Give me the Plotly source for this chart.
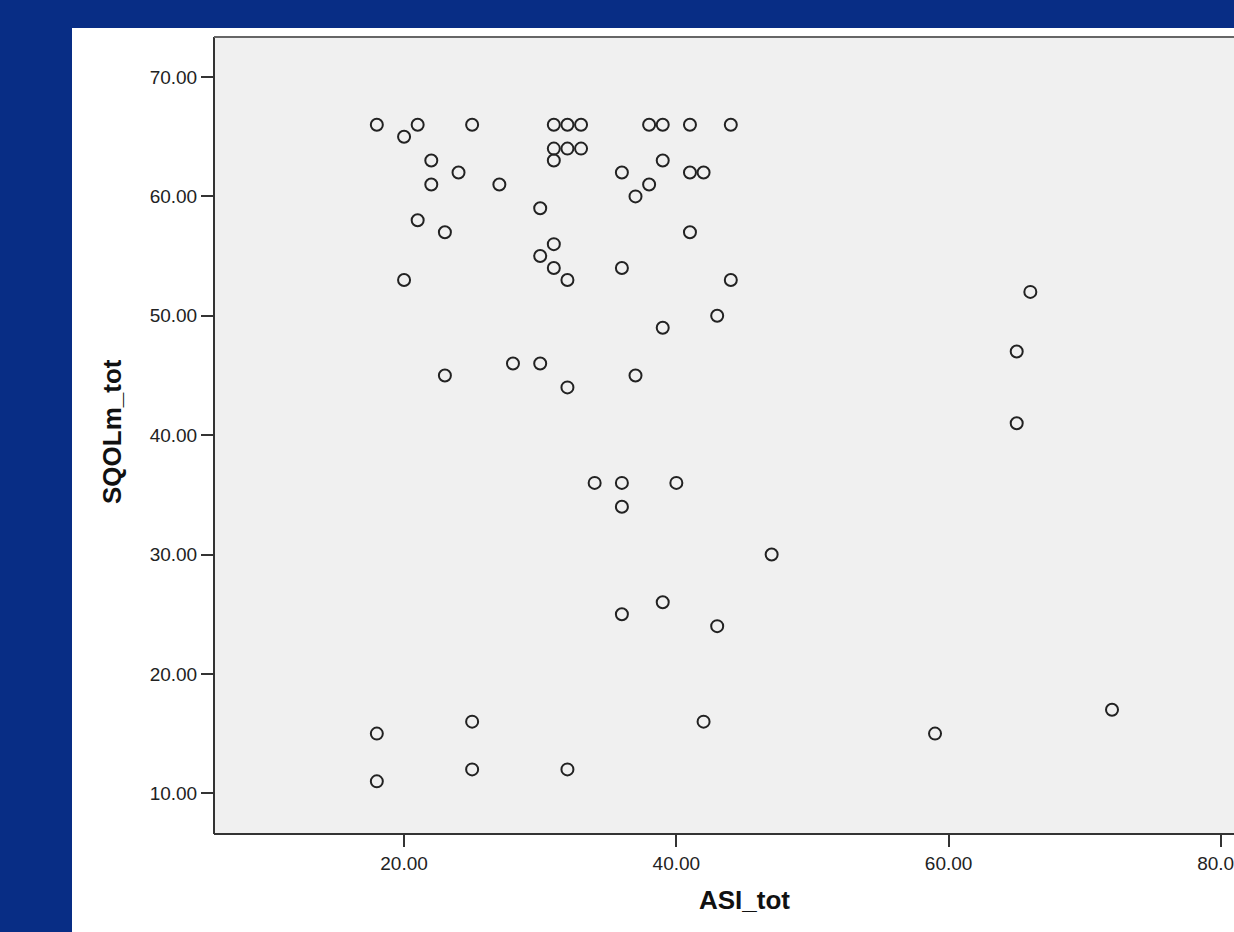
import plotly.graph_objects as go

# Data
asi_tot = [18, 21, 25, 31, 32, 33, 38, 39, 41, 44,
           20,
           31, 32, 33,
           22, 31, 39,
           24, 36, 41, 42,
           22, 27, 38,
           37,
           30,
           21,
           23, 41,
           31,
           30,
           31, 36,
           20, 32, 44,
           66,
           43,
           39,
           65,
           28, 30,
           23, 37,
           32,
           65,
           34, 36, 40,
           36,
           47,
           39,
           36,
           43,
           72,
           25, 42,
           18, 59,
           25, 32,
           18]
sqolm_tot = [66, 66, 66, 66, 66, 66, 66, 66, 66, 66,
             65,
             64, 64, 64,
             63, 63, 63,
             62, 62, 62, 62,
             61, 61, 61,
             60,
             59,
             58,
             57, 57,
             56,
             55,
             54, 54,
             53, 53, 53,
             52,
             50,
             49,
             47,
             46, 46,
             45, 45,
             44,
             41,
             36, 36, 36,
             34,
             30,
             26,
             25,
             24,
             17,
             16, 16,
             15, 15,
             12, 12,
             11]

x_ticks = [20, 40, 60, 80]
x_tick_labels = ["20.00", "40.00", "60.00", "80.00"]
y_ticks = [10, 20, 30, 40, 50, 60, 70]
y_tick_labels = ["10.00", "20.00", "30.00", "40.00", "50.00", "60.00", "70.00"]
x_title = "ASI_tot"
y_title = "SQOLm_tot"

FONT = "Liberation Sans, Arial, sans-serif"
NAVY = "#082d85"
W, H = 1234, 932
ML, MR, MT, MB = 214, 0, 37, 98
pw = W - ML - MR
ph = H - MT - MB

def px_x(p):
    return (p - ML) / pw

def px_y(p):
    return (H - MB - p) / ph

fig = go.Figure()
fig.add_trace(go.Scatter(
    x=asi_tot, y=sqolm_tot, mode="markers",
    marker=dict(symbol="circle-open", size=12, color="#222222",
                line=dict(width=2, color="#222222")),
    showlegend=False, hoverinfo="x+y",
))

frame = dict(color="#333333", width=2)
shapes = [
    # white panel
    dict(type="rect", xref="paper", yref="paper",
         x0=px_x(72), x1=1.05, y0=px_y(H + 20), y1=px_y(28),
         fillcolor="white", line=dict(width=0), layer="below"),
    # plot area
    dict(type="rect", xref="paper", yref="paper",
         x0=0, x1=1.05, y0=0, y1=1,
         fillcolor="#f0f0f0", line=dict(width=0), layer="below"),
    # frame: left, top, bottom (right side runs off the page)
    dict(type="line", xref="paper", yref="paper", x0=0, x1=0, y0=0, y1=1,
         line=frame, layer="below"),
    dict(type="line", xref="paper", yref="paper", x0=0, x1=1.05, y0=1, y1=1,
         line=dict(color="#666666", width=2), layer="below"),
    dict(type="line", xref="paper", yref="paper", x0=0, x1=1.05, y0=0, y1=0,
         line=frame, layer="below"),
]

fig.update_layout(
    width=W, height=H,
    margin=dict(l=ML, r=MR, t=MT, b=MB, autoexpand=False),
    paper_bgcolor=NAVY,
    plot_bgcolor="rgba(0,0,0,0)",
    shapes=shapes,
    font=dict(family=FONT, size=19, color="#222222"),
    xaxis=dict(range=[6.04, 80.96], tickvals=x_ticks, ticktext=x_tick_labels,
               showgrid=False, zeroline=False, showline=False,
               ticks="outside", ticklen=12,
               tickwidth=2, tickcolor="#333333", automargin=False,
               ticklabeloverflow="allow",
               tickfont=dict(family=FONT, size=19, color="#222222")),
    yaxis=dict(range=[6.59, 73.35], tickvals=y_ticks, ticktext=y_tick_labels,
               showgrid=False, zeroline=False, showline=False,
               ticks="outside", ticklen=12,
               tickwidth=2, tickcolor="#333333", automargin=False,
               tickfont=dict(family=FONT, size=19, color="#222222")),
    annotations=[
        dict(text="<b>" + x_title + "</b>", xref="paper", yref="paper",
             x=px_x(744), y=px_y(900), xanchor="center", yanchor="middle",
             showarrow=False, font=dict(family=FONT, size=26, color="#111111")),
        dict(text="<b>" + y_title + "</b>", xref="paper", yref="paper",
             x=px_x(112), y=px_y(432), xanchor="center", yanchor="middle",
             textangle=-90, showarrow=False,
             font=dict(family=FONT, size=26, color="#111111")),
    ],
)

fig.write_html("out.html", config={"displayModeBar": False},
               post_script="document.body.style.margin='0';document.body.style.overflow='hidden';")
